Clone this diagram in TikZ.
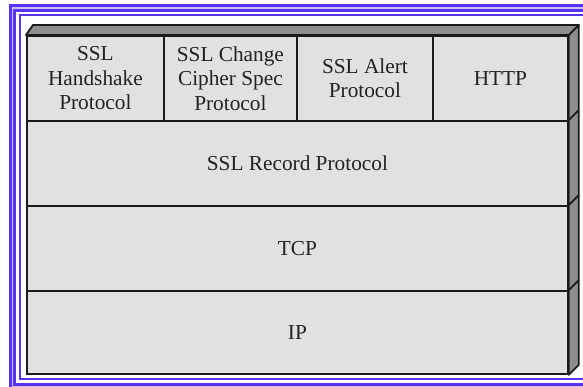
\documentclass[tikz,border=0pt]{standalone}
\usepackage{fontspec}
\setmainfont{Liberation Serif}
\definecolor{frameblue}{HTML}{5A32F2}
\definecolor{framelight}{HTML}{C8C0FF}
\definecolor{face}{HTML}{E1E1E1}
\definecolor{shade}{HTML}{8E8E8E}
\definecolor{edge}{HTML}{1A1A1A}
\definecolor{ink}{HTML}{222222}
\begin{document}
\begin{tikzpicture}[x=1pt,y=-1pt,
  layer/.style={draw=edge, line width=1.8pt, fill=face, inner sep=0pt,
    anchor=north west, align=center, text=ink,
    font=\fontsize{21.3}{24.5}\selectfont},
  faceline/.style={draw=edge, line width=1.8pt, fill=shade, line join=round}]
\useasboundingbox (0,0) rectangle (583,387);

% double blue frame, running off the right and bottom edges
\draw[frameblue, line width=7.5pt] (12.5,8) rectangle (610,387);
\draw[framelight, line width=1.5pt] (12.5,8) rectangle (610,387);
\draw[frameblue, line width=2pt] (20,15) rectangle (610,379);

% top row of protocols
\node[layer, minimum width=137pt, minimum height=85pt] (hs)   at (26,35)  {SSL\\Handshake\\Protocol};
\node[layer, minimum width=133pt, minimum height=85pt] (ccs)  at (163,35) {SSL Change\\Cipher Spec\\Protocol};
\node[layer, minimum width=136pt, minimum height=85pt] (alert) at (296,35) {SSL Alert\\Protocol};
\node[layer, minimum width=135pt, minimum height=85pt] (http) at (432,35) {HTTP};

% lower layers
\node[layer, minimum width=541pt, minimum height=85pt] (rec) at (26,120) {SSL Record Protocol};
\node[layer, minimum width=541pt, minimum height=85pt] (tcp) at (26,205) {TCP};
\node[layer, minimum width=541pt, minimum height=83pt] (ip)  at (26,290) {IP};

% top face of the block
\path[faceline] (hs.north west) -- ++(7,-10)
  -- ([shift={(10,-10)}]http.north east) -- (http.north east) -- cycle;
% right side face of the block
\path[faceline] (http.north east) -- ++(10,-10)
  -- ([shift={(10,-10)}]ip.south east) -- (ip.south east) -- cycle;
% layer edges continued across the side face
\draw[edge, line width=1.8pt] (rec.north east) -- ++(10,-10);
\draw[edge, line width=1.8pt] (tcp.north east) -- ++(10,-10);
\draw[edge, line width=1.8pt] (ip.north east) -- ++(10,-10);
\end{tikzpicture}
\end{document}
